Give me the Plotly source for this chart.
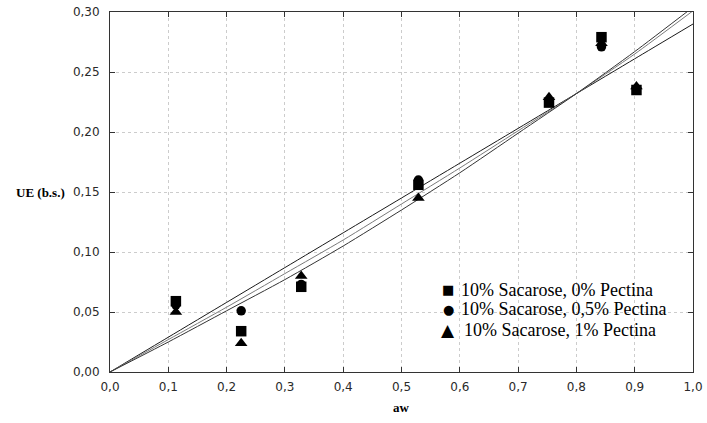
import plotly.graph_objects as go

# Water activity of the storage salts
aw = [0.113, 0.225, 0.328, 0.529, 0.753, 0.843, 0.903]

# Equilibrium moisture (dry basis) for each formulation
ue_0 = [0.059, 0.034, 0.071, 0.156, 0.2245, 0.279, 0.235]
ue_05 = [0.056, 0.051, 0.073, 0.160, 0.226, 0.271, 0.236]
ue_1 = [0.050, 0.024, 0.080, 0.145, 0.229, 0.274, 0.238]

series_names = [
    "10% Sacarose, 0% Pectina",
    "10% Sacarose, 0,5% Pectina",
    "10% Sacarose, 1% Pectina",
]

# Fitted sorption curves, read at aw = 0.0 ... 1.0
fit_aw = [0.0, 0.1, 0.2, 0.3, 0.4, 0.5, 0.6, 0.7, 0.8, 0.9, 1.0]
fit_0 = [0.0, 0.029, 0.058, 0.087, 0.116, 0.145, 0.174, 0.203, 0.232, 0.261, 0.290]
fit_05 = [0.0, 0.027, 0.054, 0.082, 0.110, 0.140, 0.170, 0.201, 0.232, 0.265, 0.301]
fit_1 = [0.0, 0.025, 0.051, 0.077, 0.105, 0.135, 0.166, 0.199, 0.232, 0.267, 0.304]

x_ticks = [0.0, 0.1, 0.2, 0.3, 0.4, 0.5, 0.6, 0.7, 0.8, 0.9, 1.0]
y_ticks = [0.00, 0.05, 0.10, 0.15, 0.20, 0.25, 0.30]

SERIF = "Times New Roman, Liberation Serif, serif"

fig = go.Figure()

for ys, col in [(fit_0, "#1a1a1a"), (fit_05, "#7a7a7a"), (fit_1, "#333333")]:
    fig.add_trace(go.Scatter(
        x=fit_aw, y=ys, mode="lines",
        line=dict(color=col, width=1, shape="spline", smoothing=0.6),
        showlegend=False, hoverinfo="skip",
    ))

markers = [("square", 10.5), ("circle", 9.5), ("triangle-up", 11)]
for ys, name, (sym, size) in zip([ue_0, ue_05, ue_1], series_names, markers):
    fig.add_trace(go.Scatter(
        x=aw, y=ys, mode="markers", name=name,
        marker=dict(symbol=sym, size=size, color="black", line=dict(width=0)),
        showlegend=False, cliponaxis=False,
    ))

axis_common = dict(
    showline=True, linecolor="#333333", linewidth=1, mirror="ticks",
    ticks="inside", ticklen=5, tickcolor="#333333", tickwidth=1,
    showgrid=True, gridcolor="#cccccc", gridwidth=1, griddash="dot",
    zeroline=False, automargin=False,
    tickfont=dict(family="DejaVu Sans", size=12, color="#2a2a2a"),
)

fig.update_xaxes(range=[0, 1.0], tickvals=x_ticks, tickformat=".1f",
                 ticklabelstandoff=4, **axis_common)
fig.update_yaxes(range=[0, 0.30], tickvals=y_ticks, tickformat=".2f",
                 ticklabelstandoff=7, **axis_common)

annotations = [
    dict(text="<b>UE (b.s.)</b>", x=-0.12, y=0.4986, xref="paper", yref="paper",
         xanchor="center", yanchor="middle", showarrow=False,
         font=dict(family=SERIF, size=13, color="black")),
    dict(text="<b>aw</b>", x=0.5, y=-0.099, xref="paper", yref="paper",
         xanchor="center", yanchor="middle", showarrow=False,
         font=dict(family=SERIF, size=13, color="black")),
]

# Legend block: glyph + label per series
glyphs = [("■", 13), ("●", 13), ("▲", 17)]
legend_rows_y = [0.229, 0.174, 0.118]
legend_text_x = [0.598, 0.598, 0.603]
for (g, gs), name, yy, tx in zip(glyphs, series_names, legend_rows_y, legend_text_x):
    annotations.append(dict(text=g, x=0.580, y=yy, xref="paper", yref="paper",
                            xanchor="center", yanchor="middle", showarrow=False,
                            font=dict(family="DejaVu Sans", size=gs, color="black")))
    annotations.append(dict(text=name, x=tx, y=yy, xref="paper", yref="paper",
                            xanchor="left", yanchor="middle", showarrow=False,
                            font=dict(family=SERIF, size=18, color="black")))

fig.update_layout(
    template="none",
    width=707, height=423,
    margin=dict(l=110, r=14, t=12, b=51, autoexpand=False),
    paper_bgcolor="white", plot_bgcolor="white",
    separators=",.",
    annotations=annotations,
    showlegend=False,
)

fig.write_html("out.html")
